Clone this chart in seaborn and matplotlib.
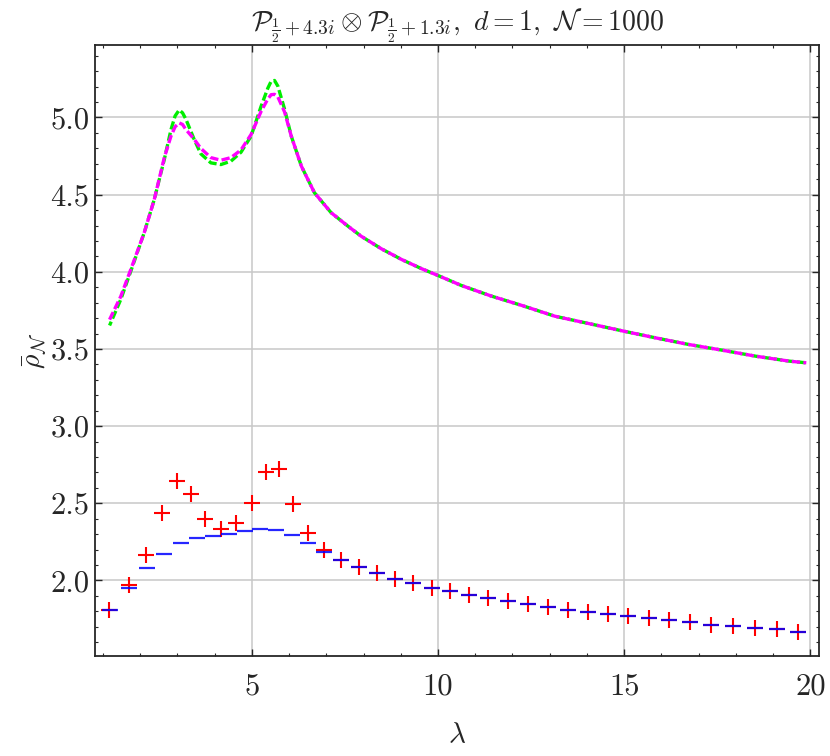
import numpy as np
import pandas as pd
import matplotlib
matplotlib.use("Agg")
import matplotlib.pyplot as plt
import seaborn as sns

# ---- data ----
curve_x = [1.18, 1.48, 1.75, 2.11, 2.38, 2.65, 2.83, 2.94, 3.05, 3.14, 3.23, 3.45, 3.63,
           3.90, 4.17, 4.44, 4.71, 4.98, 5.25, 5.43, 5.52, 5.61, 5.70, 5.88, 6.06, 6.33,
           6.68, 7.13, 7.58, 7.94, 8.48, 9.02, 9.56, 10.0, 10.63, 11.44, 12.25, 13.14,
           14.04, 14.99, 15.84, 16.73, 17.63, 18.53, 19.43, 19.89]
curve_green_y = [3.652, 3.820, 4.004, 4.253, 4.468, 4.728, 4.922, 5.010, 5.049, 5.030,
                 4.989, 4.859, 4.765, 4.706, 4.695, 4.717, 4.775, 4.879, 5.073, 5.190,
                 5.235, 5.240, 5.203, 5.054, 4.879, 4.685, 4.513, 4.383, 4.296, 4.230,
                 4.149, 4.080, 4.020, 3.976, 3.911, 3.842, 3.782, 3.712, 3.665, 3.615,
                 3.572, 3.529, 3.492, 3.453, 3.421, 3.410]
curve_magenta_y = [3.690, 3.840, 4.015, 4.253, 4.468, 4.740, 4.880, 4.940, 4.965, 4.955,
                   4.922, 4.860, 4.800, 4.740, 4.723, 4.740, 4.790, 4.890, 5.040, 5.120,
                   5.148, 5.150, 5.133, 5.036, 4.879, 4.685, 4.513, 4.383, 4.296, 4.230,
                   4.149, 4.080, 4.020, 3.976, 3.911, 3.842, 3.782, 3.712, 3.665, 3.615,
                   3.572, 3.529, 3.492, 3.453, 3.421, 3.410]

tail_x = [7.88, 8.36, 8.84, 9.33, 9.83, 10.32, 10.83, 11.35, 11.89, 12.41, 12.95, 13.49,
          14.02, 14.56, 15.10, 15.66, 16.21, 16.78, 17.34, 17.93, 18.51, 19.09, 19.68]
tail_y = [2.086, 2.045, 2.008, 1.982, 1.952, 1.930, 1.904, 1.883, 1.865, 1.844, 1.829,
          1.811, 1.796, 1.781, 1.768, 1.753, 1.740, 1.727, 1.714, 1.703, 1.690, 1.682, 1.668]

red_x = [1.17, 1.69, 2.17, 2.60, 2.98, 3.36, 3.75, 4.16, 4.58, 5.00, 5.38, 5.74, 6.10,
         6.51, 6.95, 7.40] + tail_x
red_y = [1.807, 1.973, 2.163, 2.438, 2.643, 2.561, 2.401, 2.336, 2.373, 2.503, 2.704,
         2.719, 2.498, 2.304, 2.196, 2.131] + tail_y

blue_x = [1.18, 1.70, 2.19, 2.65, 3.10, 3.53, 3.97, 4.38, 4.82, 5.23, 5.65, 6.08, 6.51,
          6.95, 7.40] + tail_x
blue_y = [1.807, 1.952, 2.077, 2.174, 2.241, 2.272, 2.286, 2.299, 2.317, 2.336, 2.328,
          2.293, 2.241, 2.183, 2.129] + tail_y

x_ticks = [5, 10, 15, 20]
y_ticks = [2.0, 2.5, 3.0, 3.5, 4.0, 4.5, 5.0]

# ---- style ----
sns.set_theme(style="ticks")
plt.rcParams.update({
    "font.family": ["cmr10", "DejaVu Serif"],
    "mathtext.fontset": "cm",
    "axes.formatter.use_mathtext": True,
    "axes.unicode_minus": False,
    "xtick.direction": "in",
    "ytick.direction": "in",
    "xtick.top": True,
    "ytick.right": True,
    "xtick.minor.visible": True,
    "ytick.minor.visible": True,
    "axes.linewidth": 1.3,
    "xtick.major.size": 5, "ytick.major.size": 5,
    "xtick.minor.size": 2.5, "ytick.minor.size": 2.5,
    "xtick.major.width": 1.0, "ytick.major.width": 1.0,
    "xtick.minor.width": 0.8, "ytick.minor.width": 0.8,
})

fig = plt.figure(figsize=(8.30, 7.56), dpi=100)
ax = fig.add_axes([0.1145, 0.1323, 0.8722, 0.8082])

ax.grid(True, which="major", color="#c8c8c8", linewidth=1.1, zorder=0)
ax.set_axisbelow(True)

sns.lineplot(x=curve_x, y=curve_green_y, ax=ax, color="#00ee00", linewidth=2.4,
             linestyle=(1.25, (2.5, 1.0)), sort=False, zorder=3)
sns.lineplot(x=curve_x, y=curve_magenta_y, ax=ax, color="#ff00ff", linewidth=2.4,
             linestyle=(0, (2.5, 1.0)), sort=False, zorder=4)
sns.scatterplot(x=red_x, y=red_y, ax=ax, marker="+", s=120, color="red", linewidth=1.5,
                zorder=5)
sns.scatterplot(x=blue_x, y=blue_y, ax=ax, marker="_", s=120, color="blue", linewidth=1.6,
                alpha=0.85, zorder=6)

ax.set_xlim(0.79, 20.23)
ax.set_ylim(1.51, 5.47)
ax.set_xticks(x_ticks)
ax.set_yticks(y_ticks)
ax.xaxis.set_minor_locator(matplotlib.ticker.MultipleLocator(1))
ax.yaxis.set_minor_locator(matplotlib.ticker.MultipleLocator(0.1))
ax.set_xticklabels([f"{v}" for v in x_ticks])
ax.set_yticklabels([f"{v:.1f}" for v in y_ticks])
ax.tick_params(axis="both", which="major", labelsize=22)
ax.tick_params(axis="x", which="major", pad=12)
ax.tick_params(axis="y", which="major", pad=4)

ax.set_xlabel(r"$\lambda$", fontsize=21, labelpad=16)
ax.set_ylabel(r"$\bar{\rho}_{\mathcal{N}}$", fontsize=20, labelpad=2)
ax.set_title(r"$\mathcal{P}_{\frac{1}{2}+4.3i}\otimes\mathcal{P}_{\frac{1}{2}+1.3i},\ d=1,\ \mathcal{N}=1000$",
             fontsize=20, pad=10)

fig.savefig("out.png", dpi=100)
